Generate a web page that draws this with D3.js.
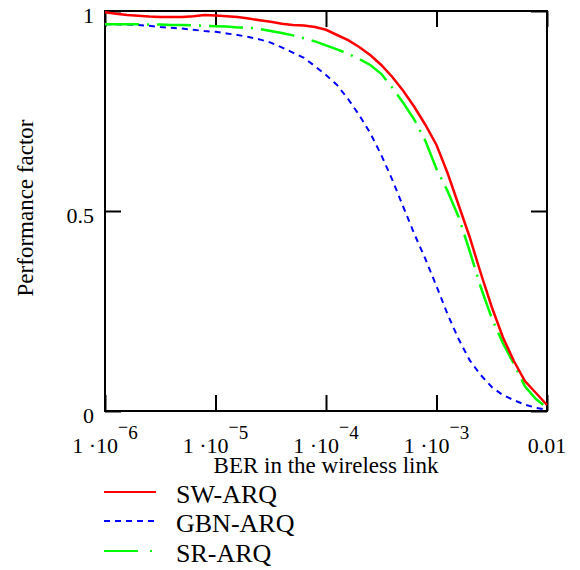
<!DOCTYPE html>
<meta charset="utf-8">
<style>
body {
  margin: 0;
  background: #fff;
  font-family: 'Liberation Serif', 'Times New Roman', serif;
}
.axis .domain {
  display: none;
}
.axis line {
  stroke: #000;
  stroke-width: 2;
}
.series {
  fill: none;
}
</style>
<body>
<div id="chart"></div>
<script src="https://d3js.org/d3.v7.min.js"></script>
<script>
// BER grid, as powers of ten
var berExp = [-6.0, -5.9, -5.8, -5.7, -5.6, -5.5, -5.4, -5.3, -5.2, -5.1,
              -5.0, -4.9, -4.8, -4.7, -4.6, -4.5, -4.4, -4.3, -4.2, -4.1,
              -4.0, -3.9, -3.8, -3.7, -3.6, -3.5, -3.4, -3.3, -3.2, -3.1,
              -3.0, -2.9, -2.8, -2.7, -2.6, -2.5, -2.4, -2.3, -2.2, -2.1, -2.0];

// performance factor
var swArq = [0.997, 0.993, 0.990, 0.988, 0.986, 0.985, 0.985, 0.985, 0.987, 0.990,
             0.989, 0.987, 0.985, 0.981, 0.977, 0.973, 0.968, 0.965, 0.964, 0.960,
             0.953, 0.940, 0.927, 0.910, 0.890, 0.865, 0.835, 0.800, 0.760, 0.715,
             0.665, 0.595, 0.515, 0.435, 0.345, 0.260, 0.185, 0.125, 0.075, 0.045, 0.015];
var gbnArq = [0.967, 0.967, 0.966, 0.965, 0.963, 0.960, 0.958, 0.956, 0.953, 0.950,
              0.948, 0.944, 0.940, 0.935, 0.929, 0.921, 0.909, 0.896, 0.883, 0.862,
              0.840, 0.815, 0.780, 0.740, 0.695, 0.640, 0.578, 0.510, 0.442, 0.380,
              0.312, 0.242, 0.180, 0.127, 0.090, 0.060, 0.040, 0.027, 0.016, 0.008, 0.003];
var srArq = [0.967, 0.967, 0.967, 0.967, 0.966, 0.966, 0.965, 0.965, 0.964, 0.963,
             0.962, 0.961, 0.959, 0.958, 0.955, 0.950, 0.945, 0.939, 0.932, 0.924,
             0.914, 0.904, 0.893, 0.880, 0.865, 0.843, 0.808, 0.770, 0.728, 0.675,
             0.605, 0.550, 0.485, 0.400, 0.310, 0.232, 0.170, 0.118, 0.062, 0.030, 0.008];

var seriesNames = ["SW-ARQ", "GBN-ARQ", "SR-ARQ"];
var seriesColors = ["#ff0000", "#0000ff", "#00ff00"];

var xTicks = [1e-6, 1e-5, 1e-4, 1e-3, 1e-2];
var xTickBase = ["1 \u00b710", "1 \u00b710", "1 \u00b710", "1 \u00b710", "0.01"];
var xTickExp = ["6", "5", "4", "3", ""];
var yTicks = [0, 0.5, 1];
var yTickLabels = ["0", "0.5", "1"];

var width = 580,
    height = 570;
var plotLeft = 105, plotRight = 547, plotTop = 11, plotBottom = 411;

var svg = d3.select("#chart").append("svg")
    .attr("width", width)
    .attr("height", height);

var x = d3.scaleLog().domain([1e-6, 1e-2]).range([plotLeft, plotRight]);
var y = d3.scaleLinear().domain([0, 1]).range([plotBottom, plotTop]);

// ticks on all four sides, pointing in
svg.append("g").attr("class", "axis")
    .attr("transform", "translate(0," + plotBottom + ")")
    .call(d3.axisBottom(x).tickValues(xTicks).tickSize(-16).tickFormat(""));
svg.append("g").attr("class", "axis")
    .attr("transform", "translate(0," + plotTop + ")")
    .call(d3.axisTop(x).tickValues(xTicks).tickSize(-16).tickFormat(""));
svg.append("g").attr("class", "axis")
    .attr("transform", "translate(" + plotLeft + ",0)")
    .call(d3.axisLeft(y).tickValues(yTicks).tickSize(-16).tickFormat(""));
svg.append("g").attr("class", "axis")
    .attr("transform", "translate(" + plotRight + ",0)")
    .call(d3.axisRight(y).tickValues(yTicks).tickSize(-16).tickFormat(""));

// frame
svg.append("rect")
    .attr("x", plotLeft)
    .attr("y", plotTop)
    .attr("width", plotRight - plotLeft)
    .attr("height", plotBottom - plotTop)
    .attr("fill", "none")
    .attr("stroke", "#000")
    .attr("stroke-width", 2);

// curves
var series = [swArq, gbnArq, srArq];
var dashes = [null, "6,5", "34,8,2,8"];
var widths = [2.5, 2, 2.5];

var line = d3.line()
    .x(function(d, i) { return x(Math.pow(10, berExp[i])); })
    .y(function(d) { return y(d); });

// draw blue first, then green, red on top
[1, 2, 0].forEach(function(k) {
  svg.append("path")
      .datum(series[k])
      .attr("class", "series")
      .attr("d", line)
      .attr("stroke", seriesColors[k])
      .attr("stroke-width", widths[k])
      .attr("stroke-dasharray", dashes[k]);
});

// y tick labels
svg.selectAll(".ylab")
    .data(yTicks)
  .enter().append("text")
    .attr("class", "ylab")
    .attr("x", plotLeft - 11)
    .attr("y", function(d) { return y(d) + 12; })
    .attr("text-anchor", "end")
    .style("font-size", "22px")
    .text(function(d, i) { return yTickLabels[i]; });

// x tick labels with raised exponent
var xl = svg.selectAll(".xlab")
    .data(xTicks)
  .enter().append("text")
    .attr("class", "xlab")
    .attr("x", function(d) { return x(d); })
    .attr("y", 453)
    .attr("text-anchor", "middle")
    .style("font-size", "22px");
xl.append("tspan")
    .text(function(d, i) { return xTickBase[i]; });
xl.filter(function(d, i) { return xTickExp[i] !== ""; })
  .append("tspan")
    .attr("dy", -20)
    .style("font-size", "18px")
    .text("\u2212");
xl.filter(function(d, i) { return xTickExp[i] !== ""; })
  .append("tspan")
    .attr("dy", 6)
    .style("font-size", "19px")
    .text(function(d) { return xTickExp[xTicks.indexOf(d)]; });

// axis titles
svg.append("text")
    .attr("x", (plotLeft + plotRight) / 2)
    .attr("y", 473)
    .attr("text-anchor", "middle")
    .style("font-size", "23px")
    .text("BER in the wireless link");

svg.append("text")
    .attr("transform", "translate(33,208) rotate(-90)")
    .attr("text-anchor", "middle")
    .style("font-size", "23px")
    .text("Performance factor");

// legend
var legendY = [492, 521, 551];
var legend = svg.selectAll(".legend")
    .data(seriesNames)
  .enter().append("g")
    .attr("class", "legend")
    .attr("transform", function(d, i) { return "translate(0," + legendY[i] + ")"; });
legend.append("line")
    .attr("x1", 104)
    .attr("x2", 156)
    .attr("stroke", function(d, i) { return seriesColors[i]; })
    .attr("stroke-width", 2)
    .attr("stroke-dasharray", function(d, i) { return i === 1 ? "6,5" : (i === 2 ? "34,12,2,8" : null); });
legend.append("text")
    .attr("x", 176)
    .attr("y", 11)
    .style("font-size", "26px")
    .text(function(d) { return d; });
</script>
</body>
